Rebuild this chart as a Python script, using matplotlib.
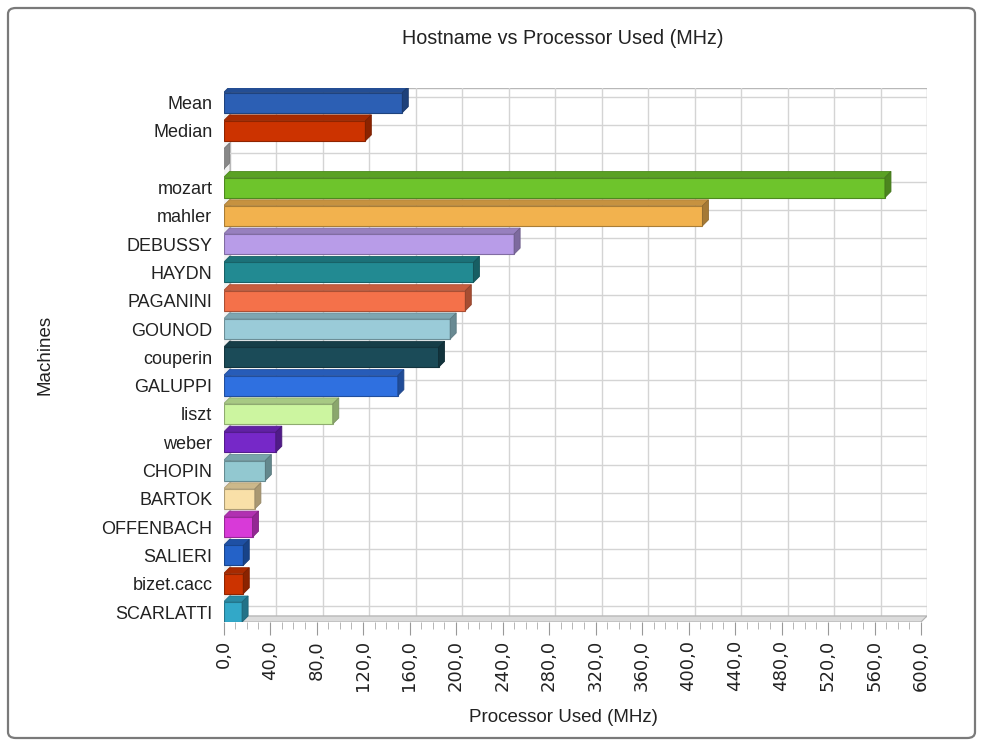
import matplotlib
matplotlib.use("Agg")
import matplotlib.pyplot as plt
from matplotlib.patches import Polygon, Rectangle, FancyBboxPatch
from matplotlib.colors import to_rgb

# ---------------- data ----------------
machines = ["Mean", "Median", "", "mozart", "mahler", "DEBUSSY", "HAYDN", "PAGANINI",
            "GOUNOD", "couperin", "GALUPPI", "liszt", "weber", "CHOPIN", "BARTOK",
            "OFFENBACH", "SALIERI", "bizet.cacc", "SCARLATTI"]
processor_mhz = [153.8, 122.0, 0.0, 569, 412, 250, 215, 208,
                 195, 185, 150, 94, 45, 36, 27,
                 25, 17, 17, 16]
bar_colors = ["#2c5fb4", "#cc3300", "#c8c8c8", "#6ec42c", "#f2b24e", "#b89ce8", "#228a92",
              "#f4714a", "#9acbd8", "#1b4b58", "#2f70e0", "#ccf5a0", "#7628c8", "#92c8d0",
              "#f9e0a8", "#d83ad8", "#2462c8", "#cc3300", "#32a8c8"]
x_ticks = list(range(0, 601, 40))
x_tick_labels = [f"{t},0" for t in x_ticks]

title = "Hostname vs Processor Used (MHz)"
x_label = "Processor Used (MHz)"
y_label = "Machines"

# ---------------- layout ----------------
W, H = 981, 745
plt.rcParams['font.family'] = ['Liberation Sans', 'DejaVu Sans']
fig = plt.figure(figsize=(W / 100, H / 100), dpi=100)
fig.patch.set_facecolor("white")

left_px, right_front_px, right_back_px = 223.5, 921.0, 927.0
top_px, bottom_px = 88.0, 622.0
ax = fig.add_axes([left_px / W, 1 - bottom_px / H,
                   (right_back_px - left_px) / W, (bottom_px - top_px) / H])

ppu_x = (right_front_px - left_px) / 600.0
ppr = 28.3
depth = 6.0
dxu = depth / ppu_x
dyu = depth / ppr
xmax = (right_back_px - left_px) / ppu_x
n = len(machines)
ybot = (n - 1) + (bottom_px - 612) / ppr
ytop = (n - 1) - (612 - top_px) / ppr
ax.set_xlim(0, xmax)
ax.set_ylim(ybot, ytop)
ax.set_facecolor("none")
for s in ax.spines.values():
    s.set_visible(False)

grid_c = "#d4d4d4"
# back wall
ax.add_patch(Rectangle((dxu, ytop), xmax - dxu, (ybot - dyu) - ytop,
                       facecolor="white", edgecolor="#b8b8b8", lw=1.0, zorder=0))
for t in x_ticks[1:-1]:
    ax.plot([t + dxu, t + dxu], [ytop, ybot - dyu], color=grid_c, lw=1.0, zorder=1)
for i in range(n):
    ax.plot([dxu, xmax], [i - dyu, i - dyu], color=grid_c, lw=1.0, zorder=1)
# floor and left wall
ax.add_patch(Polygon([(0, ybot), (600, ybot), (xmax, ybot - dyu), (dxu, ybot - dyu)],
                     closed=True, facecolor="#dcdcdc", edgecolor="#b0b0b0", lw=0.8, zorder=1))
ax.add_patch(Polygon([(0, ytop + dyu), (dxu, ytop), (dxu, ybot - dyu), (0, ybot)],
                     closed=True, facecolor="#f2f2f2", edgecolor="#cccccc", lw=0.6, zorder=1))

def shade(c, f):
    r, g, b = to_rgb(c)
    return (r * f, g * f, b * f)

bh = 20.0 / ppr
for i, (v, c) in enumerate(zip(processor_mhz, bar_colors)):
    y0 = i - bh / 2
    y1 = i + bh / 2
    ax.barh(i, v, height=bh, left=0, color=c, edgecolor=shade(c, 0.7), lw=0.8, zorder=3)
    top = Polygon([(0, y0), (v, y0), (v + dxu, y0 - dyu), (dxu, y0 - dyu)], closed=True,
                  facecolor=shade(c, 0.82), edgecolor=shade(c, 0.7), lw=0.6, zorder=3)
    side = Polygon([(v, y0), (v + dxu, y0 - dyu), (v + dxu, y1 - dyu), (v, y1)], closed=True,
                   facecolor=shade(c, 0.68), edgecolor=shade(c, 0.6), lw=0.6, zorder=3)
    ax.add_patch(top)
    ax.add_patch(side)

# axes ticks
ax.set_xticks(x_ticks)
ax.set_xticklabels(x_tick_labels, rotation=90, fontsize=13, color="#222222",
                   family=['DejaVu Sans'])
ax.set_xticks(range(0, 601, 10), minor=True)
ax.tick_params(axis="x", which="major", length=9, color="#999999", pad=4)
ax.tick_params(axis="x", which="minor", length=5, color="#aaaaaa")
ax.set_yticks(range(n))
ax.set_yticklabels(machines, fontsize=13, color="#222222")
ax.tick_params(axis="y", length=0, pad=8)

fig.text(563 / W, 1 - 38 / H, title, ha="center", va="center", fontsize=14.2, color="#222222")
fig.text(563 / W, 1 - 718 / H, x_label, ha="center", va="center", fontsize=13.5, color="#222222")
fig.text(45 / W, 1 - 355 / H, y_label, ha="center", va="center", rotation=90,
         fontsize=13.5, color="#222222")

# outer frame
fig.add_artist(FancyBboxPatch((8 / W, 7 / H), 967 / W, 730 / H,
                              boxstyle="round,pad=0,rounding_size=0.008",
                              transform=fig.transFigure, facecolor="none",
                              edgecolor="#7a7a7a", lw=1.6))

fig.savefig("out.png", dpi=100)
